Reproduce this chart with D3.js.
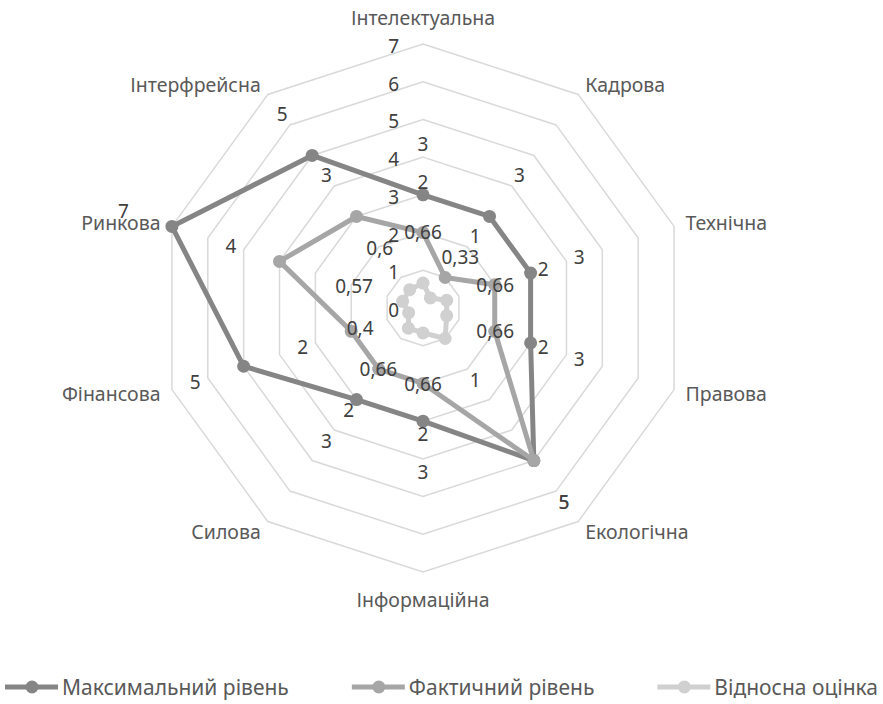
<!DOCTYPE html>
<meta charset="utf-8">
<script src="https://d3js.org/d3.v7.min.js"></script>
<style>
  body { margin: 0; background: #fff; }
  text { font-family: "Noto Sans", sans-serif; }
</style>
<div id="chart"></div>
<script>
// categories (clockwise from top)
var categories = ["Інтелектуальна", "Кадрова", "Технічна", "Правова", "Екологічна",
                  "Інформаційна", "Силова", "Фінансова", "Ринкова", "Інтерфрейсна"];
var seriesNames = ["Максимальний рівень", "Фактичний рівень", "Відносна оцінка"];
var maxLevel = [3, 3, 3, 3, 5, 3, 3, 5, 7, 5];
var actualLevel = [2, 1, 2, 2, 5, 2, 2, 2, 4, 3];
var relative = [0.66, 0.33, 0.66, 0.66, 1, 0.66, 0.66, 0.4, 0.57, 0.6];
var ticks = [0, 1, 2, 3, 4, 5, 6, 7];

var series = [
  {name: seriesNames[0], values: maxLevel, color: "#858585"},
  {name: seriesNames[1], values: actualLevel, color: "#a6a6a6"},
  {name: seriesNames[2], values: relative, color: "#d0d0d0"}
];

var width = 883, height = 704;
var cx = 423, cy = 308;
var step = 2 * Math.PI / categories.length;

var svg = d3.select("#chart")
  .append("svg")
    .attr("width", width)
    .attr("height", height);

var r = d3.scaleLinear().domain([0, 7]).range([0, 264]);

var g = svg.append("g")
  .attr("transform", "translate(" + cx + "," + cy + ")");

function px(a, rad) { return rad * Math.sin(a); }
function py(a, rad) { return -rad * Math.cos(a); }

// grid rings
var ring = d3.lineRadial()
  .angle(function(d, i) { return i * step; })
  .radius(function(d) { return r(d); })
  .curve(d3.curveLinearClosed);

g.selectAll(".ring")
  .data(ticks.slice(1))
  .enter()
  .append("path")
    .attr("d", function(t) { return ring(categories.map(function() { return t; })); })
    .style("fill", "none")
    .style("stroke", "#d9d9d9")
    .style("stroke-width", 1.5);

// tick labels on the top axis
g.selectAll(".tick")
  .data(ticks)
  .enter()
  .append("text")
    .attr("x", -24)
    .attr("y", function(t) { return -r(t) + 2; })
    .attr("text-anchor", "end")
    .attr("dominant-baseline", "central")
    .style("font-size", "19px")
    .style("fill", "#404040")
    .text(function(t) { return t; });

// category labels
g.selectAll(".cat")
  .data(categories)
  .enter()
  .append("text")
    .attr("x", function(d, i) {
      var a = i * step;
      var off = Math.abs(Math.sin(a)) < 0.01 ? 27 : 12;
      return px(a, r(7) + off);
    })
    .attr("y", function(d, i) {
      var a = i * step;
      var off = Math.abs(Math.sin(a)) < 0.01 ? 27 : 12;
      return py(a, r(7) + off);
    })
    .attr("text-anchor", function(d, i) {
      var s = Math.sin(i * step);
      return Math.abs(s) < 0.01 ? "middle" : (s > 0 ? "start" : "end");
    })
    .attr("dominant-baseline", "central")
    .style("font-size", "19.5px")
    .style("fill", "#595959")
    .text(function(d) { return d; });

// series lines and markers
var line = d3.lineRadial()
  .angle(function(d, i) { return i * step; })
  .radius(function(d) { return r(d); })
  .curve(d3.curveLinearClosed);

series.forEach(function(s) {
  g.append("path")
    .attr("d", line(s.values))
    .style("fill", "none")
    .style("stroke", s.color)
    .style("stroke-width", 5)
    .style("stroke-linejoin", "round");

  g.selectAll(null)
    .data(s.values)
    .enter()
    .append("circle")
      .attr("cx", function(d, i) { return px(i * step, r(d)); })
      .attr("cy", function(d, i) { return py(i * step, r(d)); })
      .attr("r", 6.5)
      .style("fill", s.color);
});

// data labels, pushed out along each spoke
series.forEach(function(s) {
  g.selectAll(null)
    .data(s.values)
    .enter()
    .append("text")
      .attr("x", function(d, i) { return px(i * step, r(d) + 51); })
      .attr("y", function(d, i) { return py(i * step, r(d) + 51); })
      .attr("text-anchor", "middle")
      .attr("dominant-baseline", "central")
      .style("font-size", "19px")
      .style("fill", "#404040")
      .text(function(d) { return String(d).replace(".", ","); });
});

// legend
var legend = svg.append("g").attr("transform", "translate(0,687)");
var items = legend.selectAll(".item")
  .data(series)
  .enter()
  .append("g");

items.append("line")
  .attr("x1", 0).attr("x2", 53)
  .style("stroke", function(d) { return d.color; })
  .style("stroke-width", 5);
items.append("circle")
  .attr("cx", 27).attr("r", 6.5)
  .style("fill", function(d) { return d.color; });
items.append("text")
  .attr("x", 57)
  .attr("dominant-baseline", "central")
  .style("font-size", "21px")
  .style("fill", "#595959")
  .text(function(d) { return d.name; });

var gap = 63, widths = [];
items.each(function() { widths.push(57 + d3.select(this).select("text").node().getComputedTextLength()); });
var total = d3.sum(widths) + gap * (widths.length - 1);
var xpos = (width - total) / 2;
items.attr("transform", function(d, i) {
  var x = xpos;
  xpos += widths[i] + gap;
  return "translate(" + x + ",0)";
});
</script>
